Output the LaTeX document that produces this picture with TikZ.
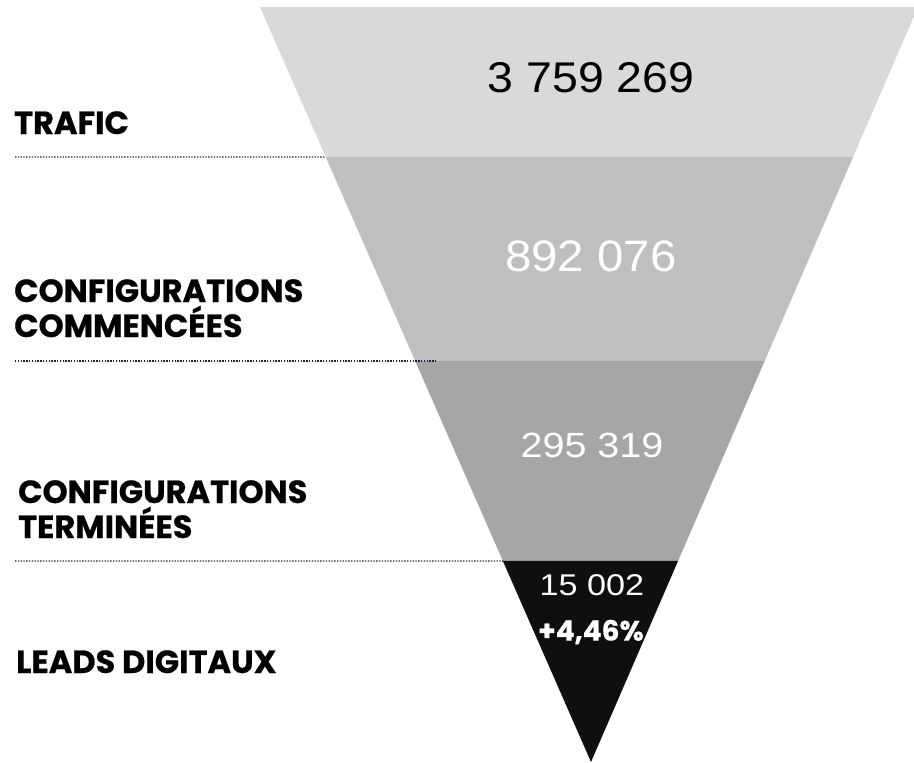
\documentclass[tikz,border=0pt]{standalone}
\usepackage{fontspec}
\setmainfont{Liberation Sans}
\newfontfamily\labfont{Poppins}[BoldFeatures={FakeBold=0.6}]
\usetikzlibrary{calc}
\definecolor{bandA}{HTML}{D9D9D9}
\definecolor{bandB}{HTML}{BFBFBF}
\definecolor{bandC}{HTML}{A6A6A6}
\definecolor{bandD}{HTML}{0F0F0F}
\definecolor{dotcol}{HTML}{1E2436}
\newcommand{\numfont}[2]{\fontsize{#1}{#1}\selectfont\addfontfeatures{FakeStretch=#2}}
\begin{document}
\begin{tikzpicture}[x=1pt,y=-1pt,
  dotline/.style={draw=dotcol,line width=1.3pt,dash pattern=on 1.3pt off 1.5pt},
  numtxt/.style={inner sep=0pt,anchor=center},
  labtxt/.style={inner sep=0pt,anchor=base west,align=left,
    font=\labfont\bfseries\fontsize{32}{35}\selectfont}]
\useasboundingbox (0,0) rectangle (914,763);
\clip (0,0) rectangle (914,763);
\coordinate (TL) at (260,7);
\coordinate (TR) at (918,7);
\coordinate (A) at (591,762);
\coordinate (L1) at ($(TL)!0.19868!(A)$);
\coordinate (R1) at ($(TR)!0.19868!(A)$);
\coordinate (L2) at ($(TL)!0.46887!(A)$);
\coordinate (R2) at ($(TR)!0.46887!(A)$);
\coordinate (L3) at ($(TL)!0.73377!(A)$);
\coordinate (R3) at ($(TR)!0.73377!(A)$);
\fill[bandA] (TL) -- (TR) -- (R1) -- (L1) -- cycle;
\fill[bandB] (L1) -- (R1) -- (R2) -- (L2) -- cycle;
\fill[bandC] (L2) -- (R2) -- (R3) -- (L3) -- cycle;
\fill[bandD] (L3) -- (R3) -- (A) -- cycle;
% dotted separators
\coordinate (s1) at (15,157);
\coordinate (s2) at (15,361);
\coordinate (e2) at (437,361);
\coordinate (s3) at (15,561);
\draw[dotline] (s1) -- (L1);
\draw[dotline] (s2) -- (e2);
\draw[dotline] (s3) -- (L3);
% values
\node[numtxt,font=\numfont{43}{1.08}] (v1) at (591,78) {3 759 269};
\node[numtxt,font=\numfont{44}{1.08},text=white] (v2) at (591,256) {892 076};
\node[numtxt,font=\numfont{35}{1.13},text=white] (v3) at (592,445) {295 319};
\node[numtxt,font=\numfont{30}{1.14},text=white] (v4) at (592,585) {15 002};
\node[numtxt,font=\labfont\bfseries\fontsize{28}{32}\selectfont,text=white] (v5) at (591,632) {+4,46\%};
% labels
\node[labtxt] (t1) at (14,134) {TRAFIC};
\node[labtxt] (t2) at (14,337) {CONFIGURATIONS\\COMMENCÉES};
\node[labtxt] (t3) at (18,538) {CONFIGURATIONS\\TERMINÉES};
\node[labtxt] (t4) at (16,673) {LEADS DIGITAUX};
\end{tikzpicture}
\end{document}
